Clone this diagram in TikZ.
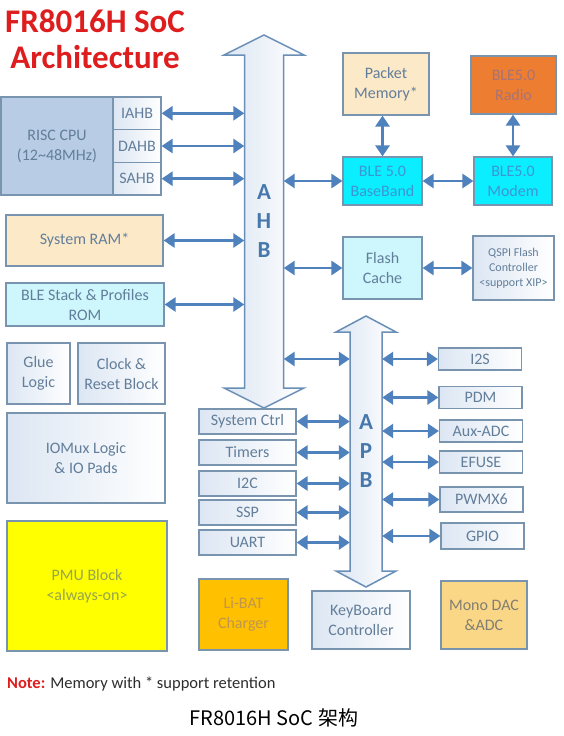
\documentclass[tikz,border=0pt]{standalone}
\usepackage{fontspec}
\setmainfont{Carlito}
\newfontfamily\cjk{Noto Sans CJK SC}
\usetikzlibrary{arrows.meta}

\begin{document}
\begin{tikzpicture}[x=1pt,y=-1pt,
  box/.style={draw=lineColor,line width=1.2pt,inner sep=0pt,align=center,text=textColor,font=\fontsize{16}{20}\selectfont},
  pale/.style={box,left color=paleColor,right color=white},
  periph/.style={pale,minimum width=83pt,minimum height=22pt},
  apbbox/.style={pale,minimum width=97pt,minimum height=25pt},
  link/.style={draw=linkColor,line width=2.8pt,<->,>={Triangle[length=11pt,width=14pt]}},
  bus/.style={draw=busColor,line width=1.5pt,line join=miter,left color=paleColor,right color=white},
  buslabel/.style={inner sep=0pt,align=center,text=busText,font=\bfseries\fontsize{23}{29}\selectfont}]
\definecolor{lineColor}{RGB}{120,148,175}
\definecolor{textColor}{RGB}{98,126,155}
\definecolor{paleColor}{RGB}{220,230,243}
\definecolor{linkColor}{RGB}{79,129,189}
\definecolor{busColor}{RGB}{105,143,182}
\definecolor{busText}{RGB}{70,120,172}
\definecolor{cpuColor}{RGB}{184,205,229}
\definecolor{creamColor}{RGB}{252,233,200}
\definecolor{lightCyan}{RGB}{205,247,252}
\definecolor{cyanColor}{RGB}{10,238,255}
\definecolor{cyanText}{RGB}{60,150,210}
\definecolor{radioColor}{RGB}{237,125,49}
\definecolor{radioText}{RGB}{165,115,120}
\definecolor{pmuColor}{RGB}{255,255,0}
\definecolor{pmuText}{RGB}{150,165,75}
\definecolor{batColor}{RGB}{255,192,0}
\definecolor{batText}{RGB}{190,150,80}
\definecolor{dacColor}{RGB}{250,215,135}
\definecolor{dacText}{RGB}{130,125,115}
\definecolor{titleRed}{RGB}{222,30,30}
\definecolor{noteText}{RGB}{45,45,45}
\path[use as bounding box,fill=white] (0,0) rectangle (564,736);

\node[text=titleRed,anchor=base,inner sep=0pt,font=\bfseries\fontsize{33}{36}\selectfont] (title) at (95,32) {FR8016H SoC};
\node[text=titleRed,anchor=base,inner sep=0pt,font=\bfseries\fontsize{33}{36}\selectfont] (titleb) at (95,68) {Architecture};

\path[bus] (264,35) -- (304,55) -- (283.5,55) -- (283.5,388) -- (304,388) -- (264,408) --
	(224,388) -- (244.5,388) -- (244.5,55) -- (224,55) -- cycle;
\path[bus] (366,316) -- (396,332) -- (382,332) -- (382,571) -- (396,571) -- (366,587) --
	(336,571) -- (350,571) -- (350,332) -- (336,332) -- cycle;
\node[buslabel,minimum width=39pt,minimum height=333pt] (ahb) at (264,221.5) {A\\H\\B};
\node[buslabel,minimum width=32pt,minimum height=239pt] (apb) at (366,451.5) {A\\P\\B};

\node[box,fill=cpuColor,minimum width=112pt,minimum height=98pt] (cpu) at (57,146) {RISC CPU\\(12\textasciitilde48MHz)};
\node[pale,minimum width=48pt,minimum height=32.7pt] (iahb) at (137,113.3) {IAHB};
\node[pale,minimum width=48pt,minimum height=32.7pt] (dahb) at (137,146) {DAHB};
\node[pale,minimum width=48pt,minimum height=32.7pt] (sahb) at (137,178.7) {SAHB};

\node[box,fill=creamColor,minimum width=157pt,minimum height=51pt] (sram) at (84.5,240.5) {System RAM*};
\node[box,fill=lightCyan,minimum width=158pt,minimum height=43pt] (rom) at (85,304.5) {BLE Stack \& Profiles\\ROM};
\node[pale,minimum width=63pt,minimum height=61pt] (glue) at (38.5,373.5) {Glue\\Logic};
\node[pale,minimum width=87pt,minimum height=61pt] (clock) at (121.5,373.5) {Clock \&\\Reset Block};
\node[pale,minimum width=158pt,minimum height=90pt] (iomux) at (86,458) {IOMux Logic\\\& IO Pads};
\node[box,fill=pmuColor,text=pmuText,minimum width=160pt,minimum height=130pt] (pmu) at (87,586) {PMU Block\\<always-on>};

\node[box,fill=creamColor,minimum width=86pt,minimum height=62pt] (pktmem) at (386,84) {Packet\\Memory*};
\node[box,fill=radioColor,text=radioText,minimum width=85pt,minimum height=58pt] (radio) at (513.5,85) {BLE5.0\\Radio};
\node[box,fill=cyanColor,text=cyanText,minimum width=79pt,minimum height=48pt] (baseband) at (382.5,181) {BLE 5.0\\BaseBand};
\node[box,fill=cyanColor,text=cyanText,minimum width=78pt,minimum height=48pt] (modem) at (513,181) {BLE5.0\\Modem};
\node[box,fill=lightCyan,minimum width=79pt,minimum height=62pt] (flash) at (382.5,268) {Flash\\Cache};
\node[pale,font=\fontsize{12}{15}\selectfont,minimum width=81pt,minimum height=64pt] (qspi) at (513.5,268) {QSPI Flash\\Controller\\<support XIP>};

\node[periph] (i2s) at (480,359) {I2S};
\node[periph] (pdm) at (480.5,397.5) {PDM};
\node[periph] (auxadc) at (481,431) {Aux-ADC};
\node[periph] (efuse) at (481,462) {EFUSE};
\node[periph,minimum height=25pt] (pwm) at (481.5,499.5) {PWMX6};
\node[periph,minimum height=26pt] (gpio) at (482.5,536) {GPIO};

\node[apbbox] (sysctrl) at (247.5,421.5) {System Ctrl};
\node[apbbox] (timers) at (247.5,452.5) {Timers};
\node[apbbox] (i2c) at (247.5,483.5) {I2C};
\node[apbbox] (ssp) at (247.5,512.5) {SSP};
\node[apbbox] (uart) at (247.5,542.5) {UART};

\node[box,fill=batColor,text=batText,minimum width=89pt,minimum height=71pt] (libat) at (243.5,614.5) {Li-BAT\\Charger};
\node[pale,minimum width=98pt,minimum height=58pt] (keyb) at (361,620) {KeyBoard\\Controller};
\node[box,fill=dacColor,text=dacText,minimum width=86pt,minimum height=68pt] (monodac) at (484,615) {Mono DAC\\\&ADC};

\draw[link] (iahb.east) -- (iahb -| ahb.west);
\draw[link] (dahb.east) -- (dahb -| ahb.west);
\draw[link] (sahb.east) -- (sahb -| ahb.west);
\draw[link] (sram.east) -- (sram -| ahb.west);
\draw[link] (rom.east) -- (rom -| ahb.west);
\draw[link] (baseband -| ahb.east) -- (baseband.west);
\draw[link] (flash -| ahb.east) -- (flash.west);
\draw[link] (i2s -| ahb.east) -- (i2s -| apb.west);
\draw[link] (baseband.north |- pktmem.south) -- (baseband.north);
\draw[link] (modem.north |- radio.south) -- (modem.north);
\draw[link] (baseband.east) -- (modem.west);
\draw[link] (flash.east) -- (qspi.west);

\draw[link] (sysctrl.east) -- (sysctrl -| apb.west);
\draw[link] (timers.east) -- (timers -| apb.west);
\draw[link] (i2c.east) -- (i2c -| apb.west);
\draw[link] (ssp.east) -- (ssp -| apb.west);
\draw[link] (uart.east) -- (uart -| apb.west);
\draw[link] (i2s -| apb.east) -- (i2s.west);
\draw[link] (pdm -| apb.east) -- (pdm.west);
\draw[link] (auxadc -| apb.east) -- (auxadc.west);
\draw[link] (efuse -| apb.east) -- (efuse.west);
\draw[link] (pwm -| apb.east) -- (pwm.west);
\draw[link] (gpio -| apb.east) -- (gpio.west);

\node[text=noteText,anchor=base west,inner sep=0pt,font=\fontsize{16.5}{20}\selectfont] (note) at (7,688) {{\color{titleRed}\bfseries Note:} Memory with * support retention};
\node[text=black,inner sep=0pt,font=\cjk\fontsize{20}{24}\selectfont] (caption) at (274,718) {FR8016H SoC 架构};
\end{tikzpicture}
\end{document}
